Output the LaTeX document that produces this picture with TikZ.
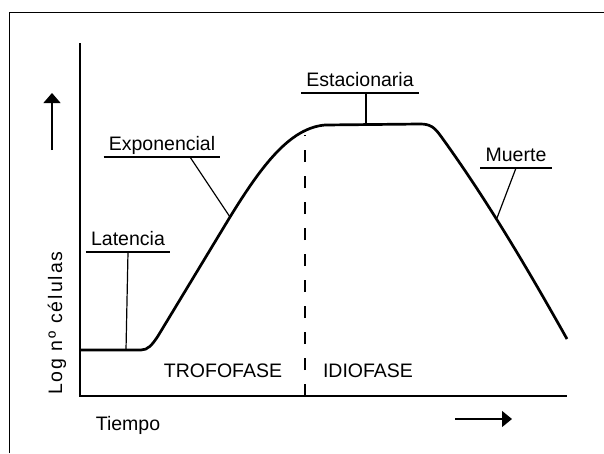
\documentclass[tikz,border=0pt]{standalone}
\usepackage{fontspec}
\setmainfont{Liberation Sans}
\usetikzlibrary{arrows,arrows.meta,positioning}
\tikzset{
  etiq/.style={font=\fontsize{19.5}{22}\selectfont,inner xsep=5pt,inner ysep=6pt,text depth=0pt,anchor=south},
  texto/.style={font=\fontsize{19.5}{22}\selectfont,inner sep=0pt},
  fina/.style={line width=1.2pt},
  curva/.style={line width=2.7pt,line join=round}
}
\begin{document}
\begin{tikzpicture}[x=1pt,y=-1pt]
\useasboundingbox (0,0) rectangle (604,453);
\draw[line width=1pt] (9,453)--(9,12)--(604,12);
\draw[fina] (80,43)--(80,396)--(567,396);
\draw[curva] (80,350)--(141,350) .. controls (148,350) and (152,345) .. (158,336)
  --(230,217) .. controls (262,165) and (290,128) .. (325,125)
  --(420,124) .. controls (430,124) and (434,127) .. (440,135)
  .. controls (480,190) and (520,255) .. (567,339);
\draw[line width=1.4pt,dash pattern=on 12pt off 14pt] (305,396)--(305,135);
\coordinate (pla) at (126,350);
\coordinate (pex) at (230,217);
\coordinate (pes) at (366,123);
\coordinate (pmu) at (497,218);
\node[etiq] (lat) at (128,252) {Latencia};
\node[etiq] (exp) at (162,157) {Exponencial};
\node[etiq] (est) at (360,93) {Estacionaria};
\node[etiq] (mue) at (516,168) {Muerte};
\foreach \n in {lat,exp,est,mue}
  \draw[fina] (\n.south west)--(\n.south east);
\draw[fina] (lat.south)--(pla);
\draw[fina] ([xshift=28pt]exp.south)--(pex);
\draw[fina] (pes|-est.south)--(pes);
\draw[fina] (mue.south)--(pmu);
\node[texto] (tro) at (223,371) {TROFOFASE};
\node[texto] (idi) at (368,371) {IDIOFASE};
\node[texto] (tie) at (128,425) {Tiempo};
\node[texto,rotate=90,anchor=base west] (log) at (62,395) {\addfontfeature{LetterSpace=10}Log nº células};
\coordinate (ya) at (52,150);
\coordinate (yb) at (52,93);
\coordinate (xa) at (455,419);
\coordinate (xb) at (512,419);
\draw[fina,-{Triangle[width=17pt,length=10pt]}] (ya)--(yb);
\draw[fina,-{Triangle[width=16pt,length=10pt]}] (xa)--(xb);
\end{tikzpicture}
\end{document}
